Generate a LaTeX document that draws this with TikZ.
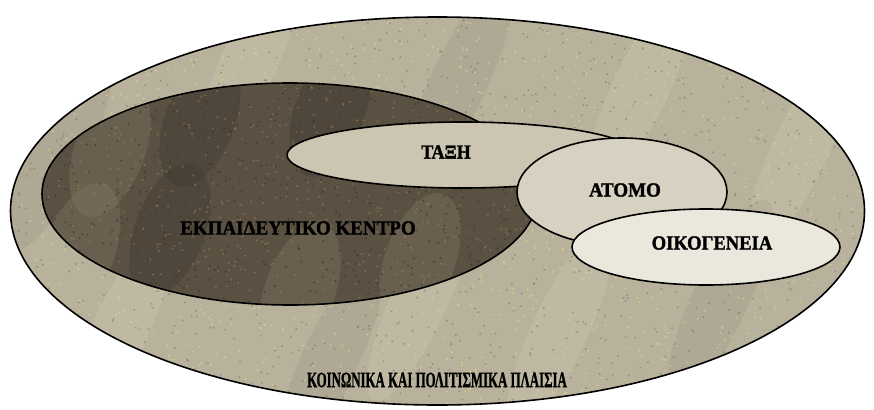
\documentclass[tikz,border=0pt]{standalone}
\usepackage{fontspec}
\setmainfont{Liberation Serif}
\newfontfamily\labfont{Liberation Serif}[BoldFont={Liberation Serif Bold}, BoldFeatures={FakeBold=1.6}]
\definecolor{bigc}{HTML}{B8B29C}
\definecolor{bigl}{HTML}{D8D3BC}
\definecolor{bigd}{HTML}{8E8779}
\definecolor{speck}{HTML}{DCD48C}
\definecolor{darkc}{HTML}{5A5142}
\definecolor{darkl}{HTML}{857B66}
\definecolor{darkd}{HTML}{3C372E}
\definecolor{taxc}{HTML}{CBC5B1}
\definecolor{atoc}{HTML}{D6D1C0}
\definecolor{oikc}{HTML}{EAE7DC}
\begin{document}
\begin{tikzpicture}[x=1pt,y=-1pt,
  outline/.style={draw=black, line width=1.6pt},
  lab/.style={font=\labfont\bfseries\fontsize{20}{20}\selectfont, inner sep=0, text=black},
  streak/.style={fill=#1, opacity=0.22}]
\useasboundingbox (0,0) rectangle (874,409);
\fill[white] (0,0) rectangle (874,409);
% outer context
\fill[bigc] (437.5,211) ellipse [x radius=427, y radius=194];
\begin{scope}
  \clip (437.5,211) ellipse [x radius=427, y radius=194];
  \foreach \cx/\cy/\c in {120/330/bigl, 250/60/bigl, 330/360/bigd, 460/80/bigd, 560/330/bigl, 640/90/bigl, 720/300/bigd, 800/150/bigl, 60/150/bigd, 420/300/bigl}
    \fill[streak=\c, rotate around={-25:(\cx,\cy)}] (\cx,\cy) ellipse [x radius=28, y radius=110];
  \pgfmathsetseed{7}
  \foreach \i in {1,...,2400} {
    \pgfmathsetmacro{\px}{10+854*rnd}
    \pgfmathsetmacro{\py}{17+390*rnd}
    \pgfmathsetmacro{\pc}{rnd}
    \ifdim\pc pt<0.45pt
      \fill[bigd!85!black, opacity=0.55] (\px,\py) circle [radius=1.1];
    \else
      \fill[speck, opacity=0.7] (\px,\py) circle [radius=1.1];
    \fi
  }
\end{scope}
\draw[outline] (437.5,211) ellipse [x radius=427, y radius=194];
% educational centre
\fill[darkc] (290,194) ellipse [x radius=248, y radius=111];
\begin{scope}
  \clip (290,194) ellipse [x radius=248, y radius=111];
  \foreach \cx/\cy/\c in {80/250/darkl, 200/120/darkd, 170/230/darkd, 300/290/darkl, 330/110/darkd, 420/260/darkl, 110/150/darkl}
    \fill[streak=\c, opacity=0.35, rotate around={-20:(\cx,\cy)}] (\cx,\cy) ellipse [x radius=35, y radius=70];
  \pgfmathsetseed{11}
  \foreach \i in {1,...,1200} {
    \pgfmathsetmacro{\px}{42+496*rnd}
    \pgfmathsetmacro{\py}{83+222*rnd}
    \pgfmathsetmacro{\pc}{rnd}
    \ifdim\pc pt<0.5pt
      \fill[darkd, opacity=0.7] (\px,\py) circle [radius=1.1];
    \else
      \fill[brown!50!darkl, opacity=0.6] (\px,\py) circle [radius=1.1];
    \fi
  }
\end{scope}
\draw[outline] (290,194) ellipse [x radius=248, y radius=111];
% class
\fill[taxc] (462,155) ellipse [x radius=175, y radius=33];
\draw[outline] (462,155) ellipse [x radius=175, y radius=33];
% individual
\fill[atoc] (622,192) ellipse [x radius=105, y radius=54];
\draw[outline] (622,192) ellipse [x radius=105, y radius=54];
% family
\fill[oikc] (706,247) ellipse [x radius=134, y radius=38];
\draw[outline] (706,247) ellipse [x radius=134, y radius=38];
% labels
\node[lab, xscale=0.90] (taxi) at (446,152) {ΤΑΞΗ};
\node[lab, xscale=0.95] (atomo) at (625,190) {ΑΤΟΜΟ};
\node[lab, xscale=0.93] (oikog) at (712,243) {ΟΙΚΟΓΕΝΕΙΑ};
\node[lab, xscale=0.95] (kentro) at (298,228) {ΕΚΠΑΙΔΕΥΤΙΚΟ ΚΕΝΤΡΟ};
\node[lab, font=\labfont\bfseries\fontsize{22}{22}\selectfont, xscale=0.585] (plaisia) at (437,380) {ΚΟΙΝΩΝΙΚΑ ΚΑΙ ΠΟΛΙΤΙΣΜΙΚΑ ΠΛΑΙΣΙΑ};
\end{tikzpicture}
\end{document}
